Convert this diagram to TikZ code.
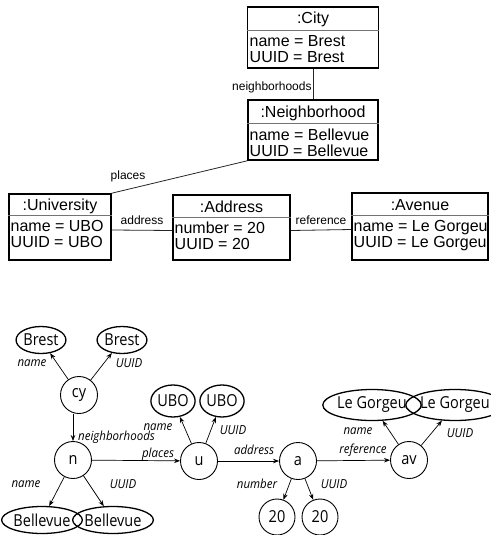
\documentclass[tikz,border=0pt]{standalone}
\usepackage{fontspec}
\setmainfont{Liberation Sans}
\newfontfamily\graphfont[FakeStretch=0.88]{Open Sans}
\newfontfamily\edgefont[FakeStretch=0.92]{Open Sans}
\usetikzlibrary{shapes.geometric,arrows.meta}

\begin{document}
\begin{tikzpicture}[x=1pt,y=-1pt,
  umlbox/.style={draw, line width=1.6pt, inner sep=0pt},
  divider/.style={draw=black!55, line width=0.8pt},
  boxtitle/.style={inner sep=0pt, anchor=base, font=\fontsize{16}{16}\selectfont},
  boxattr/.style={inner sep=0pt, anchor=base west, font=\fontsize{16}{16}\selectfont},
  assoc/.style={draw=black!85, line width=0.8pt},
  assoclabel/.style={inner sep=1pt, font=\fontsize{12}{12}\selectfont},
  obj/.style={circle, draw, line width=0.9pt, minimum size=37pt, inner sep=0pt,
    font=\graphfont\fontsize{16.5}{16.5}\selectfont},
  val/.style={ellipse, draw, line width=1.3pt, inner sep=0pt,
    font=\graphfont\fontsize{16.5}{16.5}\selectfont},
  rel/.style={draw, line width=0.7pt, -{Stealth[length=6pt,width=4.5pt]}},
  rellabel/.style={inner sep=1pt, font=\edgefont\itshape\fontsize{12.5}{12.5}\selectfont}
]
\useasboundingbox (0,0) rectangle (490,535);

% ---------- object diagram ----------
% :City
\node[umlbox, minimum width=131pt, minimum height=61pt] (city) at (313,37.5) {};
\draw[divider] (city.west |- 0,30) -- (city.east |- 0,30);
\node[boxtitle] (cityT) at (313,23.5) {:City};
\node[boxattr] (cityN) at (249.5,47) {name = Brest};
\node[boxattr] (cityU) at (249.5,63) {UUID = Brest};

% :Neighborhood
\node[umlbox, minimum width=130pt, minimum height=60pt] (neigh) at (313,130) {};
\draw[divider] (neigh.west |- 0,123) -- (neigh.east |- 0,123);
\node[boxtitle] (neighT) at (313,117.5) {:Neighborhood};
\node[boxattr] (neighN) at (249.5,140) {name = Bellevue};
\node[boxattr] (neighU) at (249.5,156) {UUID = Bellevue};

% :University
\node[umlbox, minimum width=102pt, minimum height=66pt] (univ) at (60,227) {};
\draw[divider] (univ.west |- 0,215) -- (univ.east |- 0,215);
\node[boxtitle] (univT) at (60,210.5) {:University};
\node[boxattr] (univN) at (10.5,231) {name = UBO};
\node[boxattr] (univU) at (10.5,247) {UUID = UBO};

% :Address
\node[umlbox, minimum width=117pt, minimum height=65pt] (addr) at (231.5,227.5) {};
\draw[divider] (addr.west |- 0,217) -- (addr.east |- 0,217);
\node[boxtitle] (addrT) at (231.5,212) {:Address};
\node[boxattr] (addrN) at (174.5,233) {number = 20};
\node[boxattr] (addrU) at (174.5,249) {UUID = 20};

% :Avenue
\node[umlbox, minimum width=136pt, minimum height=67pt] (ave) at (420,226.5) {};
\draw[divider] (ave.west |- 0,215) -- (ave.east |- 0,215);
\node[boxtitle] (aveT) at (420,210.5) {:Avenue};
\node[boxattr] (aveN) at (353.5,231) {name = Le Gorgeu};
\node[boxattr] (aveU) at (353.5,247) {UUID = Le Gorgeu};

% associations
\draw[assoc] (city) -- node[assoclabel, anchor=east, pos=0.62] {neighborhoods} (neigh);
\draw[assoc] (neigh.south west) -- node[assoclabel, pos=0.88, yshift=13pt] {places} (univ.north east);
\draw[assoc] ([yshift=-3pt]univ.east) -- node[assoclabel, yshift=10pt] {address} ([yshift=-3pt]addr.west);
\draw[assoc] ([yshift=-3pt]addr.east) -- node[assoclabel, yshift=10pt] {reference} ([yshift=-3pt]ave.west);

% ---------- object graph ----------
\node[obj] (cy) at (79,395) {cy};
\node[val, minimum width=47pt, minimum height=27pt] (brestN) at (41,340) {Brest};
\node[val, minimum width=45pt, minimum height=27pt] (brestU) at (122,340) {Brest};

\node[obj] (n) at (73,460) {n};
\node[val, minimum width=70pt, minimum height=27pt] (bellN) at (42,520) {Bellevue};
\node[val, minimum width=68pt, minimum height=27pt] (bellU) at (113,520) {Bellevue};

\node[obj] (u) at (199,461) {u};
\node[val, minimum width=43pt, minimum height=32pt] (uboN) at (173,401) {UBO};
\node[val, minimum width=41pt, minimum height=32pt] (uboU) at (222,401) {UBO};

\node[obj] (a) at (298,461) {a};
\node[obj, minimum size=36pt] (numN) at (277,517) {20};
\node[obj, minimum size=36pt] (numU) at (320,517) {20};

\node[obj] (av) at (409,460) {av};
\node[val, minimum width=80pt, minimum height=31pt] (lgN) at (372,405) {Le Gorgeu};
\node[val, minimum width=80pt, minimum height=31pt] (lgU) at (455,405) {Le Gorgeu};

\draw[rel] (cy) -- (brestN);
\draw[rel] (cy) -- (brestU);
\draw[rel] (cy.south -| n) -- (n);
\draw[rel] (n) -- (bellN);
\draw[rel] (n) -- (bellU);
\draw[rel] (n) -- (u);
\draw[rel] (u) -- (uboN);
\draw[rel] (u) -- (uboU);
\draw[rel] (u) -- (a);
\draw[rel] (a) -- (numN);
\draw[rel] (a) -- (numU);
\draw[rel] (a) -- (av);
\draw[rel] (av) -- (lgN);
\draw[rel] (av) -- (lgU);

% edge labels
\node[rellabel] (lcyN) at (32,363) {name};
\node[rellabel] (lcyU) at (129,363) {UUID};
\node[rellabel, anchor=west] (lcyn) at (77,437) {neighborhoods};
\node[rellabel] (lnN) at (26,484) {name};
\node[rellabel] (lnU) at (123,484) {UUID};
\node[rellabel] (lnu) at (158,454) {places};
\node[rellabel] (luN) at (158,427) {name};
\node[rellabel] (luU) at (233,430) {UUID};
\node[rellabel] (lua) at (254,450) {address};
\node[rellabel] (laN) at (257,484) {number};
\node[rellabel] (laU) at (334,484) {UUID};
\node[rellabel] (laav) at (363,450) {reference};
\node[rellabel] (lavN) at (358,431) {name};
\node[rellabel] (lavU) at (460,433) {UUID};
\end{tikzpicture}
\end{document}
